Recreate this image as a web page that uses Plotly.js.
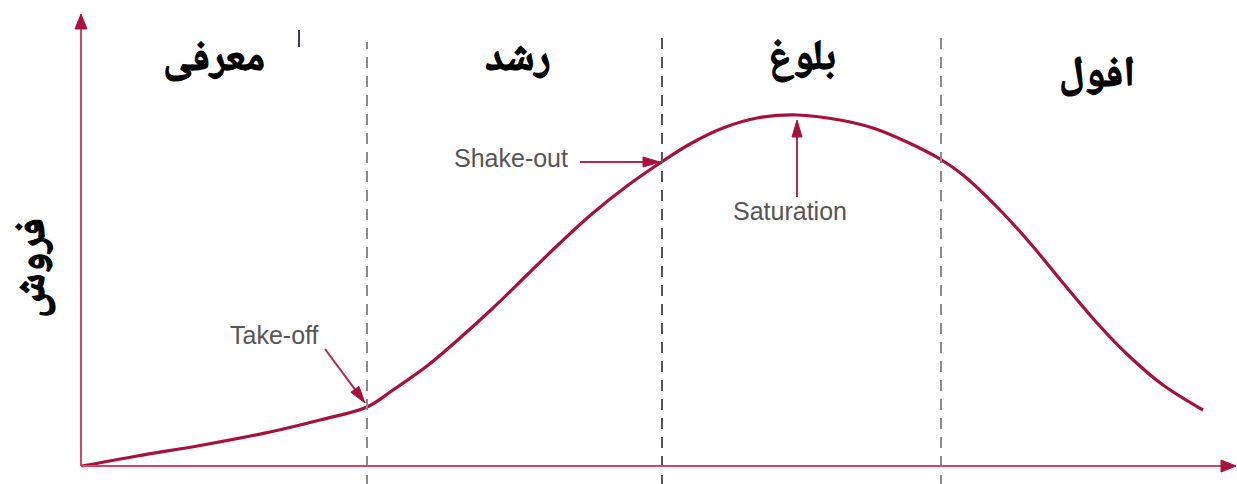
<!DOCTYPE html>
<html><head><meta charset="utf-8">
<script src="https://cdn.plot.ly/plotly-3.0.1.min.js"></script>
<style>
html,body{margin:0;padding:0;background:#fff;overflow:hidden}#chart{width:1237px;height:484px}
g.annotation.fa text{stroke:#000;stroke-width:1.1px;paint-order:stroke fill}
</style>
</head><body><div id="chart"></div>
<script>
// ---- data (x: time, y: sales) ----
const stageNames = ['معرفی', 'رشد', 'بلوغ', 'افول'];
const stageLabelX = [214, 518, 802, 1097];
const stageLabelY = [405, 405, 406, 389];
const stageBoundaries = [367, 662, 941];
const boundaryTop = [424, 433, 433];
const salesX = [82, 137, 203, 270, 320, 367, 393, 427, 460, 493, 527, 560, 593, 627, 660, 690, 723, 757, 797, 840, 873, 907, 940, 963, 997, 1030, 1063, 1097, 1130, 1163, 1203];
const salesY = [0, 10, 21, 34, 46, 59, 76, 100, 128, 158, 191, 223, 253, 280, 303, 322, 338, 348, 351, 346, 338, 324, 307, 291, 259, 223, 183, 143, 109, 81, 56];
const noteLabels = ['Take-off', 'Shake-out', 'Saturation'];
const noteTextX = [274, 511, 790];
const noteTextY = [131, 308, 255];
const noteTailX = [325, 580, 797];
const noteTailY = [117, 304, 269];
const noteTipX = [365, 660, 797];
const noteTipY = [63, 304, 346];
const yTitle = 'فروش';
const yTitlePos = [35, 198];
const axisOrigin = [81, 0];
const xAxisEnd = 1236;
const yAxisEnd = 452;
const markX = 299, markY = [419, 436];

// ---- styles ----
const RED = '#a6123c';
const AXIS = '#cc4a68';
const GRAY = '#555555';
const FA_FONT = 'Noto Naskh Arabic, DejaVu Sans, sans-serif';

function headPath(x0, y0, x1, y1, len, half) {
  const dx = x1 - x0, dy = y1 - y0, L = Math.hypot(dx, dy);
  const ux = dx / L, uy = dy / L, px = -uy, py = ux;
  const bx = x1 - ux * len, by = y1 - uy * len;
  return {
    base: [bx + ux * 1, by + uy * 1],
    path: `M${x1},${y1} L${bx + px * half},${by + py * half} L${bx - px * half},${by - py * half} Z`
  };
}

const shapes = [];
const annotations = [];

stageBoundaries.forEach((b, i) => {
  shapes.push({type: 'line', xref: 'x', yref: 'y', x0: b, x1: b, y0: -20, y1: boundaryTop[i],
    line: {color: i === 1 ? '#555' : '#8a8a8a', width: 2, dash: '11px,8px'}});
});

function arrow(x0, y0, x1, y1, color, width, len, half) {
  const h = headPath(x0, y0, x1, y1, len, half);
  shapes.push({type: 'line', xref: 'x', yref: 'y', x0: x0, y0: y0, x1: h.base[0], y1: h.base[1],
    line: {color: color, width: width}});
  shapes.push({type: 'path', xref: 'x', yref: 'y', path: h.path, fillcolor: RED, line: {color: RED, width: 1}});
}
arrow(axisOrigin[0], axisOrigin[1], xAxisEnd, axisOrigin[1], AXIS, 2, 15, 6);
arrow(axisOrigin[0], axisOrigin[1], axisOrigin[0], yAxisEnd, AXIS, 2, 15, 6);

noteLabels.forEach((t, i) => {
  arrow(noteTailX[i], noteTailY[i], noteTipX[i], noteTipY[i], '#b3294e', 2, 17, 5);
  annotations.push({x: noteTextX[i], y: noteTextY[i], xref: 'x', yref: 'y', text: t, showarrow: false,
    xanchor: 'center', yanchor: 'middle',
    font: {family: 'Liberation Sans, Arial, sans-serif', size: 25, color: GRAY}});
});

stageNames.forEach((t, i) => {
  annotations.push({x: stageLabelX[i], y: stageLabelY[i], xref: 'x', yref: 'y', text: '<b>' + t + '</b>',
    showarrow: false, xanchor: 'center', yanchor: 'middle',
    font: {family: FA_FONT, size: 42, color: '#000'}});
});

annotations.push({x: yTitlePos[0], y: yTitlePos[1], xref: 'x', yref: 'y', text: '<b>' + yTitle + '</b>',
  showarrow: false, textangle: -90, xanchor: 'center', yanchor: 'middle',
  font: {family: FA_FONT, size: 42, color: '#000'}});

shapes.push({type: 'line', xref: 'x', yref: 'y', x0: markX, x1: markX, y0: markY[0], y1: markY[1],
  line: {color: '#2c3e63', width: 2}});

const traces = [{
  x: salesX, y: salesY, type: 'scatter', mode: 'lines',
  line: {color: RED, width: 3.2, shape: 'spline', smoothing: 1},
  hoverinfo: 'skip'
}];

const layout = {
  width: 1237, height: 484,
  margin: {l: 0, r: 0, t: 0, b: 0},
  paper_bgcolor: '#fff', plot_bgcolor: '#fff',
  showlegend: false,
  xaxis: {range: [0, 1237], visible: false, fixedrange: true},
  yaxis: {range: [-18, 466], visible: false, fixedrange: true},
  shapes: shapes,
  annotations: annotations
};

Plotly.newPlot('chart', traces, layout, {staticPlot: true, displayModeBar: false}).then(() => {
  document.querySelectorAll('g.annotation').forEach((g, i) => {
    if (i >= noteLabels.length) g.classList.add('fa');
  });
});
</script>
</body></html>
